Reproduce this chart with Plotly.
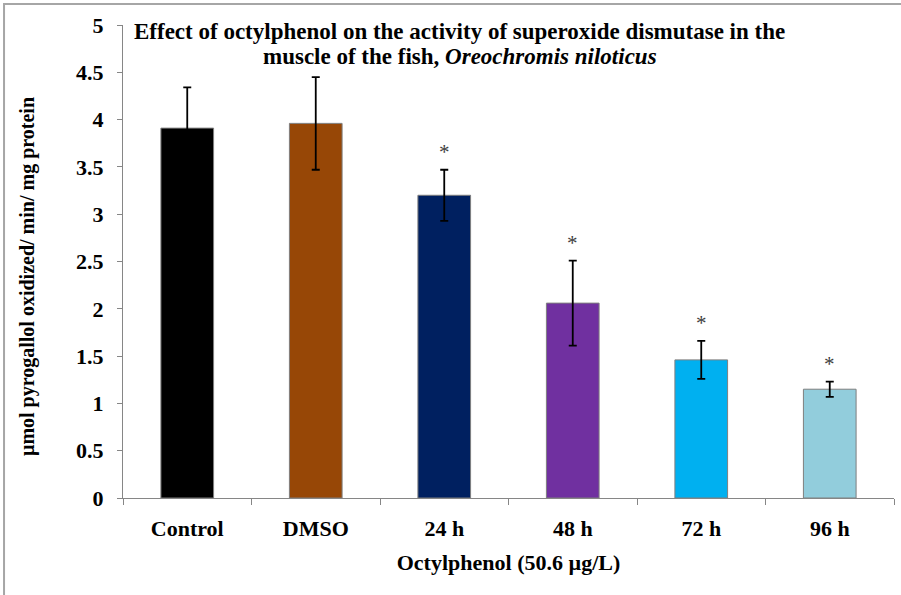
import plotly.graph_objects as go

categories = ["Control", "DMSO", "24 h", "48 h", "72 h", "96 h"]
means = [3.91, 3.96, 3.20, 2.06, 1.46, 1.15]
errors = [0.43, 0.49, 0.27, 0.45, 0.20, 0.08]
significant = [False, False, True, True, True, True]
colors = ["#000000", "#974706", "#002060", "#7030A0", "#00B0F0", "#92CDDC"]
y_ticks = [0, 0.5, 1, 1.5, 2, 2.5, 3, 3.5, 4, 4.5, 5]
title_lines = [
    "<b>Effect of octylphenol on the activity of superoxide dismutase in the</b>",
    "<b>muscle of the fish, <i>Oreochromis niloticus</i></b>",
]

serif = "Liberation Serif"

fig = go.Figure()
fig.add_trace(go.Bar(
    x=categories, y=means,
    marker=dict(color=colors, line=dict(color="#7f7f7f", width=1)),
    width=0.41,
    error_y=dict(type="data", array=errors, visible=True,
                 color="#000000", thickness=1.8, width=4),
    showlegend=False,
))

for c, m, e, s in zip(categories, means, errors, significant):
    if s:
        fig.add_annotation(x=c, y=m + e, text="*", showarrow=False,
                           yanchor="bottom", yshift=4,
                           font=dict(family=serif, size=21, color="#404040"))

# title, two lines placed individually
for i, line in enumerate(title_lines):
    fig.add_annotation(xref="paper", yref="paper", x=0.437, y=1.0,
                       yshift=(498 - 31 - 25 * i) - 473, text=line, showarrow=False,
                       xanchor="center", yanchor="middle",
                       font=dict(family=serif, size=23, color="#000000"))

# y-axis title as rotated annotation
fig.add_annotation(xref="paper", yref="paper", x=-0.1245, y=0.467,
                   text="<b>µmol pyrogallol oxidized/ min/ mg protein</b>",
                   textangle=-90, showarrow=False, xanchor="center", yanchor="middle",
                   font=dict(family=serif, size=20, color="#000000"))

fig.add_shape(type="rect", xref="paper", yref="paper",
              x0=-0.1543, x1=1.2, y0=-0.35, y1=1.0444,
              line=dict(color="#a6a6a6", width=2), layer="below")

fig.update_layout(
    width=901, height=595,
    margin=dict(l=123, r=7, t=25, b=97),
    paper_bgcolor="white", plot_bgcolor="white",
    xaxis=dict(
        type="category", showline=True, linecolor="#868686", linewidth=1,
        ticks="outside", tickson="boundaries", ticklen=6, tickcolor="#868686",
        ticklabelstandoff=11,
        tickfont=dict(family=serif, size=22, color="#000000", weight="bold"),
        title=dict(text="Octylphenol (50.6 µg/L)", standoff=14,
                   font=dict(family=serif, size=22, color="#000000", weight="bold")),
        showgrid=False,
    ),
    yaxis=dict(
        range=[0, 5], tickvals=y_ticks, ticktext=[f"{v:g}" for v in y_ticks],
        showline=True, linecolor="#868686", linewidth=1,
        ticks="outside", ticklen=5, tickcolor="#868686",
        ticklabelstandoff=9,
        tickfont=dict(family=serif, size=22, color="#000000", weight="bold"),
        showgrid=False, zeroline=False,
    ),
)

fig.write_html("out.html")
